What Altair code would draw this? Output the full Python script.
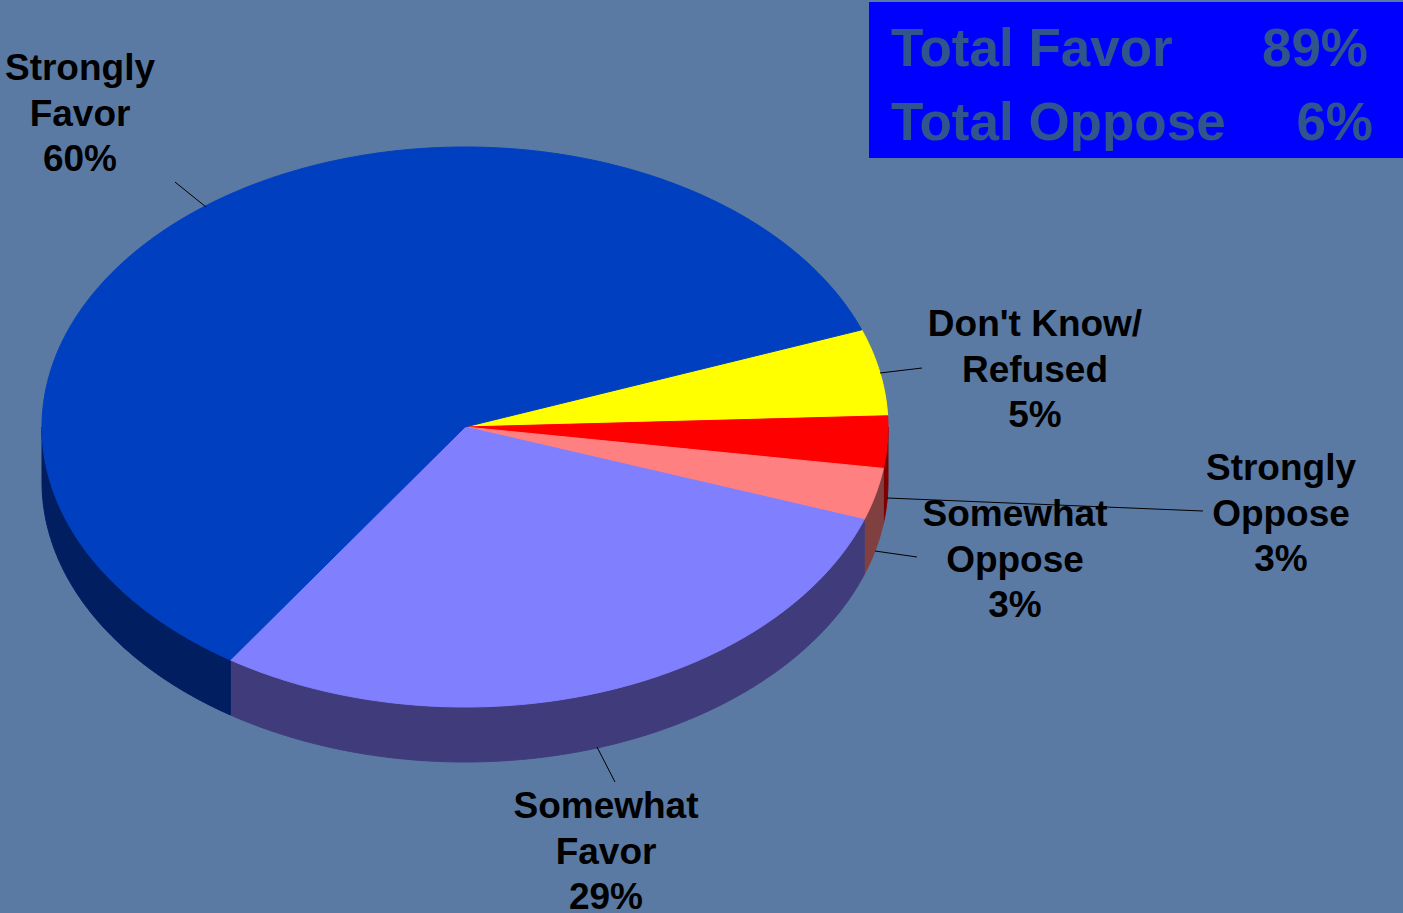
import numpy as np
import pandas as pd
import altair as alt

# ---------------- data ----------------
categories = ["Don't Know/ Refused", "Strongly Oppose", "Somewhat Oppose",
              "Somewhat Favor", "Strongly Favor"]
label_names = ["Don't Know/\nRefused", "Strongly\nOppose", "Somewhat\nOppose",
               "Somewhat\nFavor", "Strongly\nFavor"]
values = [5, 3, 3, 29, 60]
top_colors = ["#FFFF00", "#FF0000", "#FF8080", "#8080FF", "#0040C0"]
side_colors = ["#808000", "#800000", "#804040", "#403C7C", "#001E60"]

summary_labels = ["Total Favor", "Total Oppose"]
summary_values = [89, 6]

# ---------------- layout (pixel geometry of the tilted pie) ----------------
W, H = 1403, 913
CX, CY, RX, RY, DEPTH = 465, 427, 423, 280, 55
START = 20.3  # degrees, boundary between Strongly Favor and Don't Know

label_pos = {  # x centre, baseline of first line
    "Don't Know/ Refused": (1035, 336),
    "Strongly Oppose": (1281, 480),
    "Somewhat Oppose": (1015, 526),
    "Somewhat Favor": (606, 818),
    "Strongly Favor": (80, 80),
}
leader_pos = {
    "Don't Know/ Refused": (880, 373, 922, 368),
    "Strongly Oppose": (887, 498, 1203, 511),
    "Somewhat Oppose": (875, 551, 917, 557),
    "Somewhat Favor": (597, 747, 615, 782),
    "Strongly Favor": (206, 207, 175, 182),
}


def ell(a_deg, dy=0.0):
    a = np.radians(a_deg)
    return CX + RX * np.cos(a), CY - RY * np.sin(a) + dy


top_rows, side_rows = [], []
cum = 0.0
for cat, v in zip(categories, values):
    a_hi = START - cum * 3.6
    a_lo = START - (cum + v) * 3.6
    cum += v
    n = max(4, int(abs(a_hi - a_lo) * 2))
    angs = np.linspace(a_hi, a_lo, n)
    pts = [(CX, CY)] + [ell(a) for a in angs] + [(CX, CY)]
    for k, (x, y) in enumerate(pts):
        top_rows.append(dict(piece=cat, x=x, y=y, k=k))
    # visible side wall: the part of the slice in the lower half (-180..0 deg)
    s_hi = min(a_hi, 0.0)
    s_lo = max(a_lo, -180.0)
    if s_hi > s_lo:
        n = max(4, int((s_hi - s_lo) * 2))
        angs = np.linspace(s_hi, s_lo, n)
        pts = [ell(a) for a in angs] + [ell(a, DEPTH) for a in angs[::-1]]
        pts.append(pts[0])
        for k, (x, y) in enumerate(pts):
            side_rows.append(dict(piece=cat, x=x, y=y, k=k))

top_df = pd.DataFrame(top_rows)
side_df = pd.DataFrame(side_rows)

lab_df = pd.DataFrame({
    "piece": categories,
    "text": [f"{n}\n{v}%" for n, v in zip(label_names, values)],
    "x": [label_pos[c][0] for c in categories],
    "y": [label_pos[c][1] for c in categories],
})
lead_df = pd.DataFrame({
    "piece": categories,
    "x": [leader_pos[c][0] for c in categories],
    "y": [leader_pos[c][1] for c in categories],
    "x2": [leader_pos[c][2] for c in categories],
    "y2": [leader_pos[c][3] for c in categories],
})

sum_df = pd.DataFrame({
    "label": summary_labels,
    "value": [f"{v}%" for v in summary_values],
    "x": [891, 891],
    "xr": [1368, 1373],
    "y": [66, 140],
})
box_df = pd.DataFrame({"x": [869], "x2": [W], "y": [2], "y2": [158]})

xs = alt.Scale(domain=[0, W], range=[0, W], nice=False, zero=False)
ys = alt.Scale(domain=[0, H], range=[0, H], nice=False, zero=False)
X = lambda f: alt.X(f, scale=xs, axis=None)
Y = lambda f: alt.Y(f, scale=ys, axis=None)

sides = alt.Chart(side_df).mark_line(filled=True, strokeWidth=1).encode(
    x=X("x:Q"), y=Y("y:Q"),
    color=alt.Color("piece:N", scale=alt.Scale(domain=categories, range=side_colors), legend=None),
    stroke=alt.Stroke("piece:N", scale=alt.Scale(domain=categories, range=side_colors), legend=None),
    order="k:Q",
)
tops = alt.Chart(top_df).mark_line(filled=True, strokeWidth=1).encode(
    x=X("x:Q"), y=Y("y:Q"),
    color=alt.Color("piece:N", scale=alt.Scale(domain=categories, range=top_colors), legend=None),
    stroke=alt.Stroke("piece:N", scale=alt.Scale(domain=categories, range=top_colors), legend=None),
    order="k:Q",
)
leaders = alt.Chart(lead_df).mark_rule(color="black", strokeWidth=1).encode(
    x=X("x:Q"), y=Y("y:Q"), x2="x2:Q", y2="y2:Q"
)
labels = alt.Chart(lab_df).mark_text(
    font="Liberation Sans", fontSize=37, fontWeight="bold", color="black",
    align="center", baseline="alphabetic", lineBreak="\n", lineHeight=45.5,
).encode(x=X("x:Q"), y=Y("y:Q"), text="text:N")

box = alt.Chart(box_df).mark_rect(color="#0000FF").encode(
    x=X("x:Q"), x2="x2:Q", y=Y("y:Q"), y2="y2:Q"
)
sum_lab = alt.Chart(sum_df).mark_text(
    font="Liberation Sans", fontSize=53, fontWeight="bold", color="#2F558C",
    align="left", baseline="alphabetic",
).encode(x=X("x:Q"), y=Y("y:Q"), text="label:N")
sum_val = alt.Chart(sum_df).mark_text(
    font="Liberation Sans", fontSize=53, fontWeight="bold", color="#2F558C",
    align="right", baseline="alphabetic",
).encode(x=X("xr:Q"), y=Y("y:Q"), text="value:N")

chart = alt.layer(sides, tops, leaders, labels, box, sum_lab, sum_val).resolve_scale(
    color="independent", stroke="independent"
).properties(
    width=W, height=H, background="#5A7AA3", padding=0, autosize="none"
).configure_view(stroke=None)

chart.save("out.html", embed_options={"renderer": "svg", "actions": False})
